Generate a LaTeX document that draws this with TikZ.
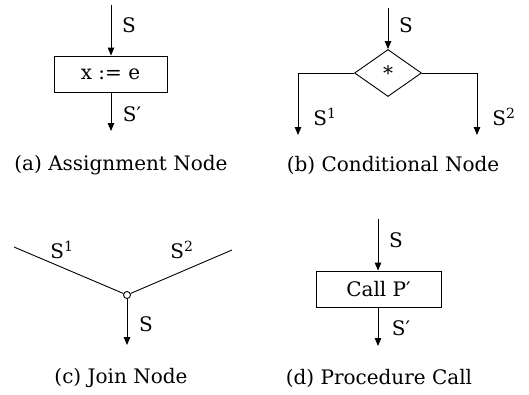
\documentclass[tikz,border=0pt]{standalone}
\usepackage{fontspec}
\setmainfont{DejaVu Serif}
\usetikzlibrary{arrows.meta,shapes.geometric}
\begin{document}
\begin{tikzpicture}[x=1pt,y=-1pt,
  font=\fontsize{20}{24}\selectfont,
  flow/.style={line width=0.9pt,-{Triangle[length=8pt,width=6.5pt]}},
  plain/.style={line width=0.9pt},
  box/.style={draw,line width=0.9pt,inner sep=0pt,minimum height=36pt},
  lbl/.style={inner sep=0pt,anchor=center},
  captext/.style={inner sep=0pt,anchor=center}]
\useasboundingbox (0,0) rectangle (529,394);
% (a)
\coordinate (a0) at (111,5);
\node[box,minimum width=113pt] (abox) at (110.5,74) {x := e};
\coordinate (a1) at (111,131);
\draw[flow] (a0) -- (a0 |- abox.north);
\draw[flow] (a0 |- abox.south) -- (a1);
\node[lbl] (aS) at (129,25) {S};
\node[lbl] (aS2) at (132,114) {S′};
\node[captext] (acap) at (121,165) {(a) Assignment Node};
% (b)
\coordinate (b0) at (388,8);
\node[draw,diamond,line width=0.9pt,inner sep=0pt,minimum width=67pt,minimum height=47pt] (dia) at (388,73) {*};
\coordinate (b1) at (298,135);
\coordinate (b2) at (477,135);
\draw[flow] (b0) -- (dia.north);
\draw[flow] (dia.west) -| (b1);
\draw[flow] (dia.east) -| (b2);
\node[lbl] (bS) at (406,25) {S};
\node[lbl] (bS1) at (325,117) {S\textsuperscript{1}};
\node[lbl] (bS2) at (504,117) {S\textsuperscript{2}};
\node[captext] (bcap) at (393,165) {(b) Conditional Node};
% (c)
\node[circle,draw,line width=0.9pt,inner sep=0pt,minimum size=7pt] (j) at (127,295) {};
\coordinate (c1) at (14,247);
\coordinate (c2) at (232,250);
\coordinate (c3) at (127,345);
\draw[plain] (c1) -- (j);
\draw[plain] (c2) -- (j);
\draw[flow] (j) -- (c3);
\node[lbl] (cS1) at (62,250) {S\textsuperscript{1}};
\node[lbl] (cS2) at (182,250) {S\textsuperscript{2}};
\node[lbl] (cS) at (146,324) {S};
\node[captext] (ccap) at (121,378) {(c) Join Node};
% (d)
\coordinate (d0) at (378,219);
\node[box,minimum width=125pt] (dbox) at (378.5,289) {Call P′};
\coordinate (d1) at (378,346);
\draw[flow] (d0) -- (d0 |- dbox.north);
\draw[flow] (d0 |- dbox.south) -- (d1);
\node[lbl] (dS) at (396,240) {S};
\node[lbl] (dS2) at (401,328) {S′};
\node[captext] (dcap) at (379,378) {(d) Procedure Call};
\end{tikzpicture}
\end{document}
